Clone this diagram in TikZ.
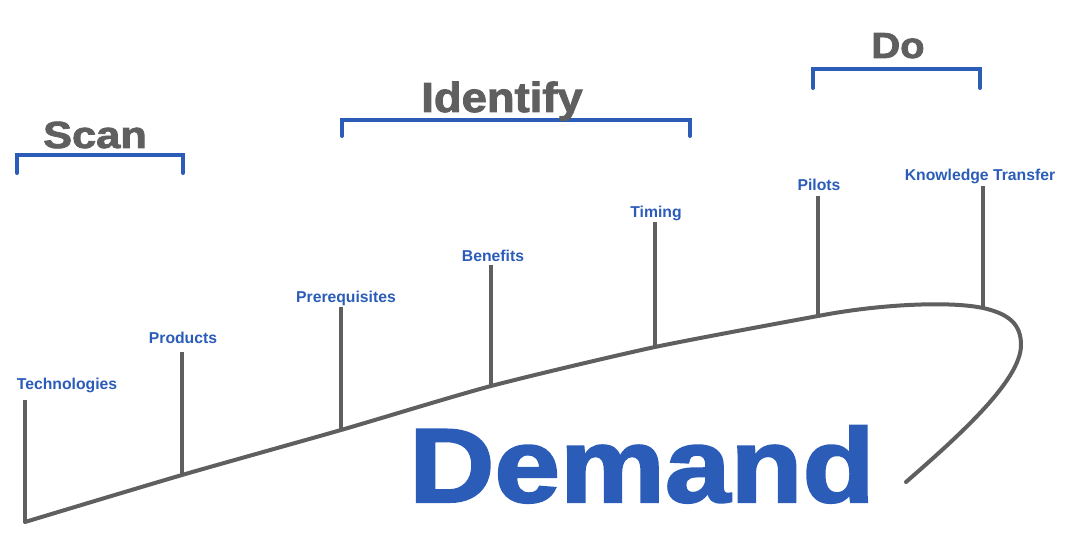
\documentclass[tikz,border=0pt]{standalone}
\usepackage{fontspec}
\usepackage{graphicx}
\setmainfont{Liberation Sans}
\newfontfamily\heavyfont[FakeBold=2]{Liberation Sans Bold}
\definecolor{myblue}{HTML}{2A5CB8}
\definecolor{mygray}{HTML}{5F5F60}
\begin{document}
\begin{tikzpicture}[x=0.75pt,y=-0.75pt,
  stem/.style={draw=mygray,line width=3pt},
  curveline/.style={draw=mygray,line width=3pt,line cap=round,line join=round},
  bracket/.style={draw=myblue,line width=3pt,line cap=round,line join=miter},
  lbl/.style={anchor=base,inner sep=0pt,text=myblue,font=\fontsize{11.8pt}{13pt}\selectfont\bfseries},
  head/.style={anchor=base,inner sep=0pt,text=mygray},
]
\useasboundingbox (0,0) rectangle (1076,556);
% curve points (bottoms of stems)
\coordinate (b1) at (25,522);
\coordinate (b2) at (182,475);
\coordinate (b3) at (341,430);
\coordinate (b4) at (491,386);
\coordinate (b5) at (655,347);
\coordinate (b6) at (818,316);
\coordinate (b7) at (983,308);
\coordinate (c2) at (1021,345);
\coordinate (c4) at (906,482);
% stem tops
\coordinate (t1) at (25,400);
\coordinate (t2) at (182,352);
\coordinate (t3) at (341,307);
\coordinate (t4) at (491,265);
\coordinate (t5) at (655,222);
\coordinate (t6) at (818,196);
\coordinate (t7) at (983,186);
% curve
\draw[curveline] plot[smooth,tension=0.4] coordinates {(b1) (b2) (b3) (b4) (b5) (b6)}
  .. controls (880,304) and (950,301) .. (b7)
  .. controls (1010,314) and (1021,325) .. (c2)
  .. controls (1021,380) and (960,435) .. (c4);
% stems
\foreach \i in {1,...,7} \draw[stem] (b\i) -- (t\i);
% labels
\node[lbl] (l1) at (67,390) {Technologies};
\node[lbl] (l2) at (183,344) {Products};
\node[lbl] (l3) at (346,303) {Prerequisites};
\node[lbl] (l4) at (493,262) {Benefits};
\node[lbl] (l5) at (656,218) {Timing};
\node[lbl] (l6) at (819,191) {Pilots};
\node[lbl] (l7) at (980,181) {Knowledge Transfer};
% brackets
\draw[bracket] (17,173) -- (17,155) -- (183,155) -- (183,173);
\draw[bracket] (342,136) -- (342,120) -- (690,120) -- (690,136);
\draw[bracket] (813,88) -- (813,69) -- (980,69) -- (980,88);
% headings
\node[head] (scan) at (95,148) {\scalebox{1.15}[1]{\fontsize{28.3pt}{30pt}\heavyfont Scan}};
\node[head] (identify) at (502,112) {\scalebox{1.08}[1]{\fontsize{31.5pt}{33pt}\heavyfont Identify}};
\node[head] (do) at (898,58) {\scalebox{1.1}[1]{\fontsize{27.2pt}{29pt}\heavyfont Do}};
\node[head,text=myblue] (demand) at (642,502) {\scalebox{1.12}[1]{\fontsize{79pt}{82pt}\heavyfont Demand}};
\end{tikzpicture}
\end{document}
